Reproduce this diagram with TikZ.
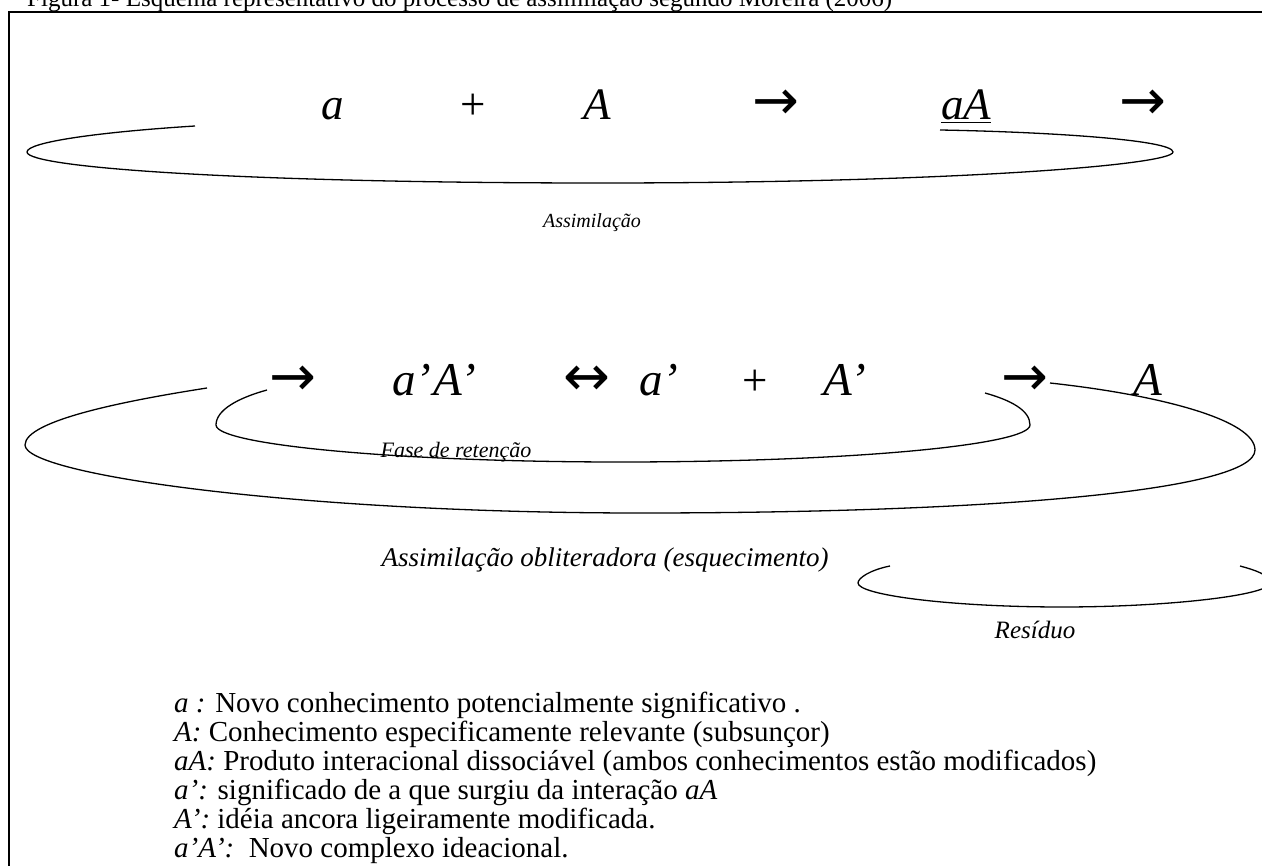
\documentclass[tikz,border=0pt]{standalone}
\usepackage{fontspec}
\setmainfont{Liberation Serif}
\newfontfamily\arrowfont{DejaVu Sans}
\usetikzlibrary{positioning}

\begin{document}
\begin{tikzpicture}[
  x=1pt, y=-1pt,
  bigsym/.style ={anchor=base, inner sep=0pt, font=\fontsize{#1}{48}\selectfont\itshape},
  bigsym/.default=45,
  bigop/.style  ={anchor=base, inner sep=0pt, font=\fontsize{45}{48}\selectfont},
  bigarrow/.style={anchor=base, inner sep=0pt, font=\fontsize{56}{60}\arrowfont},
  phase/.style  ={anchor=base, inner sep=0pt, font=\fontsize{#1}{24}\selectfont\itshape},
  phase/.default=22,
  legline/.style={anchor=base west, inner sep=0pt, font=\fontsize{29}{30}\selectfont},
  swoop/.style  ={line width=1.3pt},
  frame/.style  ={line width=1.6pt},
]
  % page size of the scan, everything outside is cut
  \path[use as bounding box, clip] (0,0) rectangle (1262,866);

  \node[anchor=base west, inner sep=0pt, font=\fontsize{25}{27}\selectfont] (caption) at (27,7)
    {Figura 1- Esquema representativo do processo de assimilação segundo Moreira (2006)};
  \draw[frame] (9,12) rectangle (1300,900);

  % first row: assimilation
  \node[bigsym]   (a)    at ( 333,120) {a};
  \node[bigop]    (plus) at ( 473,120) {+};
  \node[bigsym]   (A)    at ( 597,120) {A};
  \node[bigarrow] (to1)  at ( 776,120) {→};
  \node[bigsym]   (aA)   at ( 966,120) {\underline{aA}};
  \node[bigarrow] (to2)  at (1143,120) {→};

  % second row: retention and forgetting
  \node[bigarrow]  (to3)   at ( 293,396) {→};
  \node[bigsym=47] (aAp)   at ( 434,396) {a’\kern2pt A’};
  \node[bigarrow]  (both)  at ( 587,396) {↔};
  \node[bigsym=47] (ap)    at ( 659,396) {a’};
  \node[bigop]     (plus2) at ( 755,396) {+};
  \node[bigsym=47] (Ap)    at ( 845,396) {A’};
  \node[bigarrow]  (to4)   at (1025,396) {→};
  \node[bigsym=47] (Aend)  at (1148,396) {A};

  % hand drawn loops under the rows
  \draw[swoop] (195,126) .. controls (100,132) and (27,142) .. (27,152)
                         .. controls (27,168) and (250,183) .. (600,183)
                         .. controls (950,183) and (1173,165) .. (1173,152)
                         .. controls (1173,140) and (1050,132) .. (940,130);
  \draw[swoop] (267,390) .. controls (238,398) and (216,410) .. (216,425)
                         .. controls (216,445) and (400,462) .. (620,462)
                         .. controls (850,462) and (1030,445) .. (1030,425)
                         .. controls (1030,410) and (1010,400) .. (985,393);
  \draw[swoop] (207,388) .. controls (130,400) and (25,420) .. (25,445)
                         .. controls (25,475) and (300,513) .. (640,513)
                         .. controls (1000,513) and (1255,490) .. (1255,450)
                         .. controls (1255,420) and (1160,395) .. (1050,383);
  \draw[swoop] (890,566) .. controls (870,570) and (858,578) .. (858,583)
                         .. controls (858,595) and (950,607) .. (1062,607)
                         .. controls (1170,607) and (1270,595) .. (1270,583)
                         .. controls (1270,575) and (1255,570) .. (1240,566);

  \node[phase=20]  (assim)  at ( 592,228) {Assimilação};
  \node[phase=22]  (retain) at ( 456,458) {Fase de retenção};
  \node[phase=27]  (oblit)  at ( 605,566) {Assimilação obliteradora (esquecimento)};
  \node[phase=25]  (resid)  at (1035,638) {Resíduo};

  % key to the symbols
  \foreach \lbl/\txt [count=\i] in {
      {a :}/{Novo conhecimento potencialmente significativo .},
      {A:}/{Conhecimento especificamente relevante (subsunçor)},
      {aA:}/{Produto interacional dissociável (ambos conhecimentos estão modificados)},
      {a’:}/{significado de a que surgiu da interação \textit{aA}},
      {A’:}/{idéia ancora ligeiramente modificada.},
      {a’A’:}/{\ Novo complexo ideacional.}}
    \node[legline] (key\i) at (174,{712+29*(\i-1)}) {\textit{\lbl} \txt};

\end{tikzpicture}
\end{document}
